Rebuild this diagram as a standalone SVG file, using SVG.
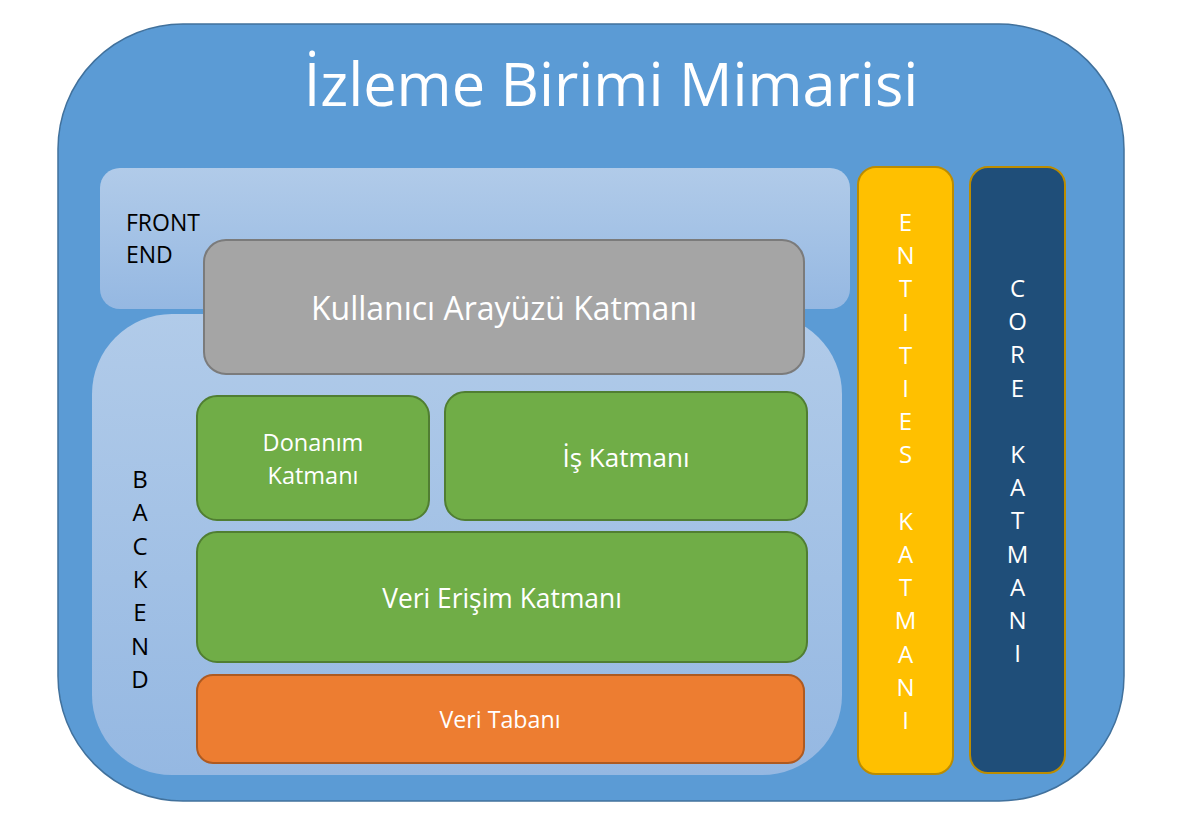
<svg xmlns="http://www.w3.org/2000/svg" width="1177" height="829" viewBox="0 0 1177 829">
<defs>
<linearGradient id="lb" x1="0" y1="0" x2="0" y2="1">
<stop offset="0" stop-color="#b1cbe9"/>
<stop offset="1" stop-color="#95b8e2"/>
</linearGradient>
<style>
.t{font-family:"Open Sans","Noto Sans","DejaVu Sans",sans-serif;text-anchor:middle;fill:#ffffff}
.k{font-family:"Open Sans","Noto Sans","DejaVu Sans",sans-serif;fill:#000000}
.v{font-family:"Open Sans","Noto Sans","DejaVu Sans",sans-serif;text-anchor:middle;font-size:24px}
.green{fill:#70ad47;stroke:#507e32;stroke-width:2}
</style>
</defs>
<rect width="1177" height="829" fill="#ffffff"/>
<g id="outer">
<rect x="58" y="24" width="1066" height="777" rx="125" ry="125" fill="#5b9bd5" stroke="#41719c" stroke-width="1.5"/>
<text class="t" x="611" y="106" font-size="59.5">İzleme Birimi Mimarisi</text>
</g>
<g id="frontend">
<rect x="100" y="168" width="750" height="141" rx="20" ry="20" fill="url(#lb)"/>
<text class="k" x="126" y="231" font-size="23">FRONT</text>
<text class="k" x="126" y="263" font-size="23">END</text>
</g>
<g id="backend">
<rect x="92" y="314" width="750" height="461" rx="80" ry="80" fill="url(#lb)"/>
<text class="v" x="140" fill="#000000"><tspan x="140" y="488">B</tspan><tspan x="140" y="521.3">A</tspan><tspan x="140" y="554.6">C</tspan><tspan x="140" y="588">K</tspan><tspan x="140" y="621.3">E</tspan><tspan x="140" y="654.6">N</tspan><tspan x="140" y="688">D</tspan></text>
</g>
<g id="kullanici">
<rect x="204" y="240" width="600" height="134" rx="22" ry="22" fill="#a5a5a5" stroke="#7b7b7b" stroke-width="2"/>
<text class="t" x="504" y="320" font-size="32">Kullanıcı Arayüzü Katmanı</text>
</g>
<g id="donanim">
<rect class="green" x="197" y="396" width="232" height="124" rx="20" ry="20"/>
<text class="t" x="313" y="451" font-size="23.5">Donanım</text>
<text class="t" x="313" y="484" font-size="23.5">Katmanı</text>
</g>
<g id="is">
<rect class="green" x="445" y="392" width="362" height="128" rx="20" ry="20"/>
<text class="t" x="626" y="467" font-size="26">İş Katmanı</text>
</g>
<g id="verierisim">
<rect class="green" x="197" y="532" width="610" height="130" rx="20" ry="20"/>
<text class="t" x="502" y="608" font-size="26.4">Veri Erişim Katmanı</text>
</g>
<g id="veritabani">
<rect x="197" y="675" width="607" height="88" rx="16" ry="16" fill="#ed7d31" stroke="#ae5a21" stroke-width="2"/>
<text class="t" x="500" y="728" font-size="23.2">Veri Tabanı</text>
</g>
<g id="entities">
<rect x="858" y="167" width="95" height="607" rx="18" ry="18" fill="#ffc000" stroke="#bc8c00" stroke-width="2"/>
<text class="v" fill="#ffffff"><tspan x="905.5" y="231">E</tspan><tspan x="905.5" y="264.2">N</tspan><tspan x="905.5" y="297.4">T</tspan><tspan x="905.5" y="330.6">I</tspan><tspan x="905.5" y="363.8">T</tspan><tspan x="905.5" y="397">I</tspan><tspan x="905.5" y="430.2">E</tspan><tspan x="905.5" y="463.4">S</tspan><tspan x="905.5" y="529.8">K</tspan><tspan x="905.5" y="563">A</tspan><tspan x="905.5" y="596.2">T</tspan><tspan x="905.5" y="629.4">M</tspan><tspan x="905.5" y="662.6">A</tspan><tspan x="905.5" y="695.8">N</tspan><tspan x="905.5" y="729">I</tspan></text>
</g>
<g id="core">
<rect x="970" y="167" width="95" height="606" rx="18" ry="18" fill="#1f4e79" stroke="#bc8c00" stroke-width="2"/>
<text class="v" fill="#ffffff"><tspan x="1017.5" y="297">C</tspan><tspan x="1017.5" y="330.2">O</tspan><tspan x="1017.5" y="363.4">R</tspan><tspan x="1017.5" y="396.6">E</tspan><tspan x="1017.5" y="463">K</tspan><tspan x="1017.5" y="496.2">A</tspan><tspan x="1017.5" y="529.4">T</tspan><tspan x="1017.5" y="562.6">M</tspan><tspan x="1017.5" y="595.8">A</tspan><tspan x="1017.5" y="629">N</tspan><tspan x="1017.5" y="662.2">I</tspan></text>
</g>
<g id="connectors"></g>
</svg>
